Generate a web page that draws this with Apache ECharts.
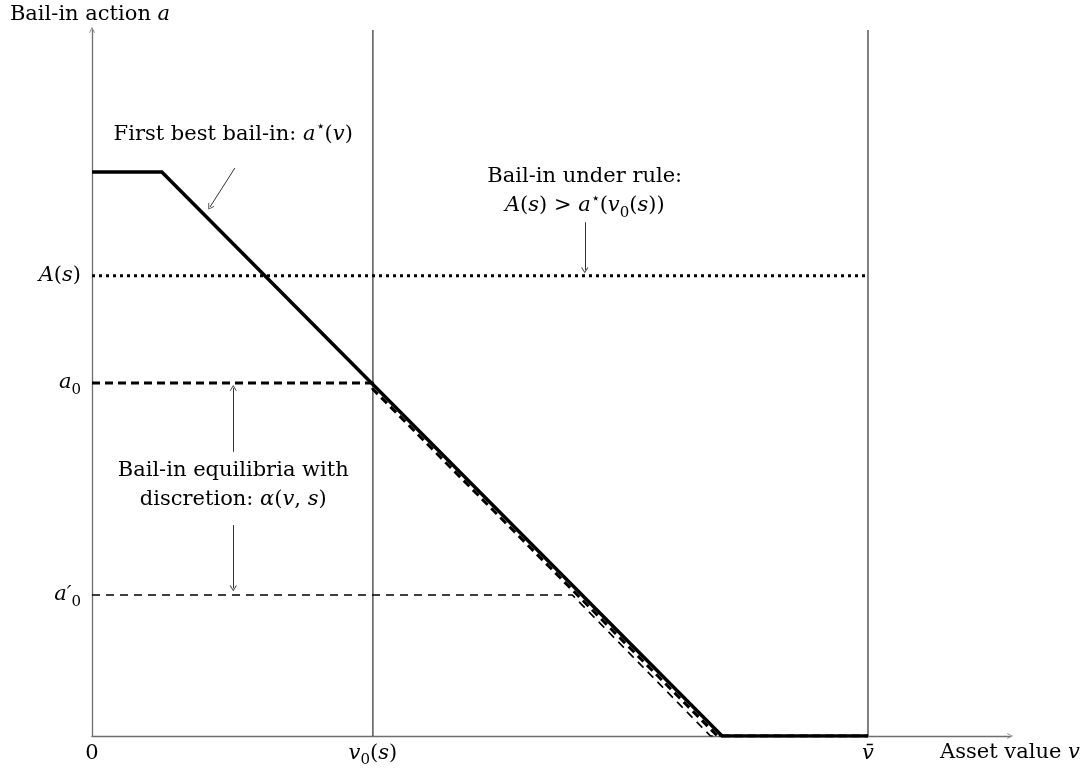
<!DOCTYPE html>
<html>
<head>
<meta charset="utf-8">
<script src="https://cdn.jsdelivr.net/npm/echarts@6/dist/echarts.min.js"></script>
<style>html,body{margin:0;padding:0;background:#fff;}#c{width:1086px;height:771px;}</style>
</head>
<body>
<div id="c"></div>
<script>
// ---- data (abstract units: v-bar = 10, first-best cap = 10) ----
const xMax = 11.83;
const yMax = 12.52;
const xTickValues = [0, 3.62, 10];
const xTickLabels = ['{r|0}', '{i|v}{sub|0}{r|(}{i|s}{r|)}', '{i|v\u0304}'];
const yTickValues = [8.16, 6.26, 2.50];
const yTickLabels = ['{i|A}{r|(}{i|s}{r|)}', '{i|a}{sub|0}', '{i|a\u2032}{sub|0}'];

const firstBest = [[0, 10], [0.90, 10], [8.12, 0], [10, 0]];
const ruleLevel = [[0, 8.16], [10, 8.16]];
const eqHigh = [[0, 6.26], [3.62, 6.26], [3.62, 6.15], [8.06, 0], [10, 0]];
const eqLow = [[0, 2.50], [6.19, 2.50], [7.97, 0], [10, 0]];
const v0Line = [[3.62, 0], [3.62, yMax]];
const vbarLine = [[10, 0], [10, yMax]];

const notePoints = [[1.82, 10.67], [6.35, 9.66], [1.82, 4.45]];
const noteTexts = [
  '{r|First best bail-in: }{i|a}{sup|\u22c6}{r|(}{i|v}{r|)}',
  '{r|Bail-in under rule:}\n{i|A}{r|(}{i|s}{r|) > }{i|a}{sup|\u22c6}{r|(}{i|v}{sub|0}{r|(}{i|s}{r|))}',
  '{r|Bail-in equilibria with}\n{r|discretion: }{i|\u03b1}{r|(}{i|v}{r|, }{i|s}{r|)}'
];
const noteArrows = [
  [[1.84, 10.07], [1.52, 9.38]],
  [[6.35, 9.11], [6.35, 8.26]],
  [[1.82, 5.04], [1.82, 6.17]],
  [[1.82, 3.74], [1.82, 2.62]]
];

// ---- styling ----
const FONT = "'DejaVu Serif', 'Liberation Serif', serif";
const FS = 21;
const rich = {
  r: {fontFamily: FONT, fontSize: FS, color: '#000', lineHeight: 29},
  i: {fontFamily: FONT, fontSize: FS, fontStyle: 'italic', color: '#000', lineHeight: 29},
  sub: {fontFamily: FONT, fontSize: 15, color: '#000', lineHeight: 14, verticalAlign: 'bottom'},
  sup: {fontFamily: FONT, fontSize: 15, color: '#000', lineHeight: 16, verticalAlign: 'top'}
};
const chevron = 'path://M5,0 L10,10 L9,10.8 L5,2.6 L1,10.8 L0,10 Z';

function nearestLabel(vals, labels, v) {
  let best = 0;
  for (let k = 1; k < vals.length; k++) if (Math.abs(vals[k] - v) < Math.abs(vals[best] - v)) best = k;
  return labels[best];
}

const chart = echarts.init(document.getElementById('c'), null, {renderer: 'canvas'});
chart.setOption({
  animation: false,
  backgroundColor: '#fff',
  grid: {left: 92, right: 76, top: 30, bottom: 35, containLabel: false},
  xAxis: {
    type: 'value', min: 0, max: xMax,
    name: '{r|Asset value }{i|v}', nameLocation: 'end', nameGap: 0,
    nameTextStyle: {align: 'center', verticalAlign: 'top', padding: [2, 0, 0, 0], rich: rich},
    axisLine: {show: true, symbol: ['none', chevron], symbolSize: [9, 6], lineStyle: {color: '#6e6e6e', width: 1.3}},
    axisTick: {show: false},
    splitLine: {show: false},
    axisLabel: {
      show: true, customValues: xTickValues, margin: 3, rich: rich,
      formatter: v => nearestLabel(xTickValues, xTickLabels, v)
    }
  },
  yAxis: {
    type: 'value', min: 0, max: yMax,
    name: '{r|Bail-in action }{i|a}', nameLocation: 'end', nameGap: 15,
    nameTextStyle: {align: 'center', verticalAlign: 'middle', padding: [0, 4, 0, 0], rich: rich},
    axisLine: {show: true, symbol: ['none', chevron], symbolSize: [9, 6], lineStyle: {color: '#6e6e6e', width: 1.3}},
    axisTick: {show: false},
    splitLine: {show: false},
    axisLabel: {
      show: true, customValues: yTickValues, margin: 11, rich: rich,
      formatter: v => nearestLabel(yTickValues, yTickLabels, v)
    }
  },
  series: [
    {type: 'line', data: v0Line, symbol: 'none', lineStyle: {color: '#1a1a1a', width: 1.1}, silent: true},
    {type: 'line', data: vbarLine, symbol: 'none', lineStyle: {color: '#1a1a1a', width: 1.1}, silent: true},
    {type: 'line', data: ruleLevel, symbol: 'none', lineStyle: {color: '#000', width: 3, type: [3, 4], cap: 'butt'}, silent: true},
    {type: 'line', data: eqLow, symbol: 'none', lineStyle: {color: '#000', width: 1.6, type: [8, 6], cap: 'butt'}, silent: true},
    {type: 'line', data: eqHigh, symbol: 'none', lineStyle: {color: '#000', width: 3, type: [8, 5], cap: 'butt'}, silent: true},
    {type: 'line', data: firstBest, symbol: 'none', lineStyle: {color: '#000', width: 3.5, join: 'miter'}, silent: true,
      markLine: {
        silent: true, symbol: ['none', chevron], symbolSize: [7, 6],
        label: {show: false},
        lineStyle: {color: '#333', width: 1, type: 'solid'},
        data: noteArrows.map(a => [{coord: a[0]}, {coord: a[1]}])
      }
    },
    {type: 'scatter', data: notePoints, symbolSize: 0, silent: true,
      itemStyle: {opacity: 1},
      label: {
        show: true, position: 'inside', align: 'center', verticalAlign: 'middle', color: '#000',
        textBorderWidth: 0, formatter: p => noteTexts[p.dataIndex], rich: rich
      }
    }
  ]
});
</script>
</body>
</html>
